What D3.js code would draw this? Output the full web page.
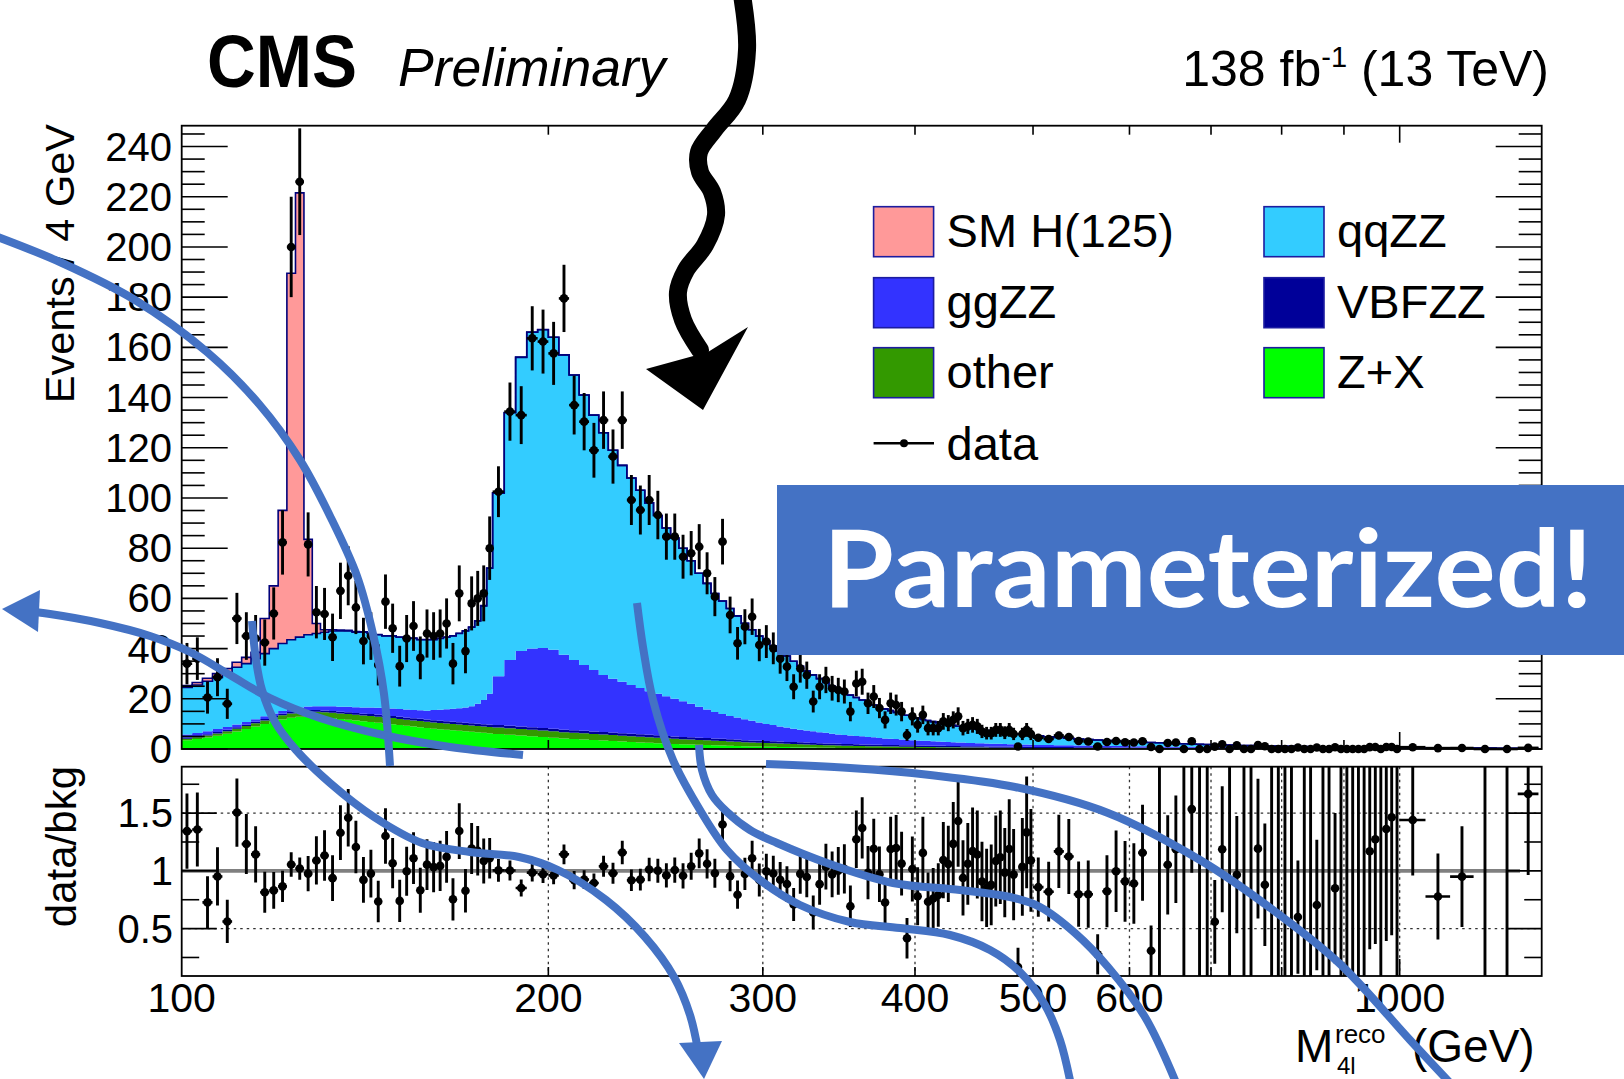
<!DOCTYPE html>
<html>
<head>
<meta charset="utf-8">
<script src="https://cdn.jsdelivr.net/npm/d3@7"></script>
<style>
  html, body { margin: 0; padding: 0; background: #fff; }
  svg { display: block; }
</style>
</head>
<body>
<svg id="chart" width="1624" height="1079"></svg>
<script>
// M4l binning: [from, to, bin width] in GeV
const binning = [[100, 180, 2], [180, 500, 4], [500, 1000, 10], [1000, 1300, 50]];

const xTickLabels = [100, 200, 300, 400, 500, 600, 1000];
const xSmallTicks = [200, 300, 400, 500, 600, 700, 800, 900];
const xBigTicks = [1000];
const yTickLabels = [0, 20, 40, 60, 80, 100, 120, 140, 160, 180, 200, 220, 240];
const ratioTickLabels = [0.5, 1, 1.5];

// stacked processes, Events / 4 GeV, one value per bin (bottom of the stack first)
const zxValues = [
  3.5, 4.0, 4.6, 5.3, 6.1, 7.0, 8.0, 9.0, 10.0, 11.0,
  11.8, 12.4, 12.8, 12.9, 12.8, 12.6, 12.3, 12.0, 11.7, 11.4,
  11.1, 10.8, 10.5, 10.2, 9.9, 9.6, 9.3, 9.0, 8.7, 8.4,
  8.1, 7.9, 7.7, 7.5, 7.3, 7.1, 6.9, 6.7, 6.5, 6.3,
  6.0, 5.7, 5.4, 5.1, 4.8,
  4.5, 4.2, 4.0, 3.8, 3.6, 3.4, 3.2, 3.0, 2.8, 2.6,
  2.5, 2.3, 2.2, 2.0, 1.9, 1.8, 1.7, 1.6, 1.5, 1.4,
  1.3, 1.2, 1.1, 1.0, 0.95, 0.9, 0.85, 0.8, 0.75, 0.7,
  0.65, 0.6, 0.55, 0.5, 0.48, 0.46, 0.44, 0.42, 0.4, 0.38,
  0.36, 0.34, 0.32, 0.3, 0.29, 0.28, 0.27, 0.26, 0.25, 0.24,
  0.23, 0.22, 0.21, 0.2, 0.2, 0.19, 0.18, 0.18, 0.17, 0.16,
  0.16, 0.15, 0.15, 0.14, 0.14, 0.13, 0.13, 0.12, 0.12, 0.11,
  0.11, 0.1, 0.1, 0.1, 0.1,
  0.09, 0.09, 0.08, 0.08, 0.07, 0.07, 0.07, 0.06, 0.06, 0.06,
  0.05, 0.05, 0.05, 0.05, 0.05, 0.05, 0.05, 0.05, 0.05, 0.05,
  0.04, 0.04, 0.04, 0.04, 0.04, 0.04, 0.04, 0.04, 0.04, 0.04,
  0.03, 0.03, 0.03, 0.03, 0.03, 0.03, 0.03, 0.03, 0.03, 0.03,
  0.02, 0.02, 0.02, 0.02, 0.02, 0.02, 0.02, 0.02, 0.02, 0.02,
  0.02, 0.01, 0.01, 0.01, 0.01, 0.01
];
const otherValues = [
  0.6, 0.7, 0.8, 0.9, 1.0, 1.1, 1.2, 1.3, 1.4, 1.5,
  1.6, 1.7, 1.8, 1.9, 2.0, 2.0, 2.1, 2.1, 2.2, 2.2,
  2.2, 2.3, 2.3, 2.3, 2.4, 2.4, 2.4, 2.4, 2.5, 2.5,
  2.5, 2.5, 2.5, 2.5, 2.5, 2.5, 2.5, 2.5, 2.5, 2.5,
  2.6, 2.6, 2.6, 2.6, 2.6,
  2.6, 2.5, 2.5, 2.5, 2.4, 2.4, 2.4, 2.3, 2.3, 2.3,
  2.2, 2.2, 2.1, 2.1, 2.0, 2.0, 1.9, 1.9, 1.8, 1.8,
  1.7, 1.7, 1.6, 1.6, 1.5, 1.5, 1.4, 1.4, 1.3, 1.3,
  1.25, 1.2, 1.15, 1.1, 1.05, 1.0, 0.95, 0.9, 0.88, 0.85,
  0.82, 0.8, 0.78, 0.75, 0.72, 0.7, 0.68, 0.66, 0.64, 0.62,
  0.6, 0.58, 0.56, 0.55, 0.54, 0.52, 0.5, 0.49, 0.48, 0.46,
  0.45, 0.44, 0.43, 0.42, 0.41, 0.4, 0.39, 0.38, 0.37, 0.36,
  0.35, 0.34, 0.33, 0.32, 0.31,
  0.3, 0.29, 0.28, 0.27, 0.26, 0.25, 0.24, 0.23, 0.22, 0.21,
  0.2, 0.19, 0.18, 0.18, 0.17, 0.16, 0.16, 0.15, 0.15, 0.14,
  0.14, 0.13, 0.13, 0.12, 0.12, 0.11, 0.11, 0.1, 0.1, 0.1,
  0.09, 0.09, 0.09, 0.09, 0.09, 0.08, 0.08, 0.08, 0.08, 0.08,
  0.08, 0.07, 0.07, 0.07, 0.07, 0.06, 0.06, 0.06, 0.06, 0.06,
  0.05, 0.05, 0.04, 0.04, 0.03, 0.03
];
const vbfValues = [
  0.5, 0.5, 0.5, 0.55, 0.55, 0.55, 0.6, 0.6, 0.6, 0.6,
  0.65, 0.65, 0.65, 0.7, 0.7, 0.7, 0.7, 0.75, 0.75, 0.75,
  0.75, 0.8, 0.8, 0.8, 0.8, 0.8, 0.85, 0.85, 0.85, 0.85,
  0.9, 0.9, 0.9, 0.9, 0.9, 0.9, 0.9, 0.9, 0.9, 0.9,
  0.95, 0.95, 1.0, 1.0, 1.0,
  1.0, 1.0, 1.0, 1.0, 1.0, 1.0, 1.0, 0.98, 0.96, 0.95,
  0.94, 0.93, 0.92, 0.91, 0.9, 0.9, 0.89, 0.88, 0.87, 0.86,
  0.85, 0.84, 0.83, 0.82, 0.81, 0.8, 0.79, 0.78, 0.77, 0.76,
  0.75, 0.74, 0.73, 0.72, 0.71, 0.7, 0.7, 0.69, 0.68, 0.67,
  0.66, 0.65, 0.64, 0.63, 0.62, 0.62, 0.61, 0.6, 0.6, 0.59,
  0.58, 0.57, 0.57, 0.56, 0.55, 0.55, 0.54, 0.53, 0.53, 0.52,
  0.52, 0.51, 0.5, 0.5, 0.49, 0.49, 0.48, 0.48, 0.47, 0.47,
  0.46, 0.46, 0.45, 0.45, 0.44,
  0.43, 0.42, 0.41, 0.4, 0.39, 0.38, 0.37, 0.36, 0.35, 0.34,
  0.33, 0.32, 0.31, 0.3, 0.3, 0.29, 0.28, 0.27, 0.27, 0.26,
  0.25, 0.25, 0.24, 0.23, 0.23, 0.22, 0.22, 0.21, 0.21, 0.2,
  0.2, 0.19, 0.19, 0.18, 0.18, 0.17, 0.17, 0.17, 0.16, 0.16,
  0.16, 0.15, 0.15, 0.15, 0.14, 0.14, 0.14, 0.13, 0.13, 0.13,
  0.12, 0.11, 0.1, 0.09, 0.08, 0.08
];
const ggValues = [
  1.2, 1.2, 1.2, 1.2, 1.1, 1.1, 1.0, 1.0, 1.0, 1.0,
  1.1, 1.2, 1.3, 1.4, 1.5, 1.7, 1.9, 2.0, 2.2, 2.3,
  2.5, 2.6, 2.8, 2.9, 3.0, 3.1, 3.2, 3.3, 3.4, 3.5,
  4.0, 4.3, 4.7, 5.1, 5.5, 6.0, 6.7, 7.9, 9.6, 12.3,
  19.4, 26.2, 30.0, 31.3, 31.8,
  31.4, 29.8, 28.0, 26.2, 24.5, 22.7, 21.4, 20.5, 19.4, 18.5,
  17.4, 16.6, 15.8, 15.0, 14.2, 13.3, 12.3, 11.4, 10.6, 9.9,
  9.3, 8.8, 8.3, 7.8, 7.3, 6.8, 6.5, 6.0, 5.7, 5.3,
  5.0, 4.8, 4.6, 4.4, 4.2, 3.9, 3.7, 3.6, 3.4, 3.3,
  3.2, 3.0, 2.9, 2.7, 2.6, 2.5, 2.4, 2.3, 2.2, 2.05,
  2.0, 1.9, 1.9, 1.8, 1.7, 1.6, 1.6, 1.5, 1.4, 1.4,
  1.3, 1.3, 1.2, 1.2, 1.15, 1.1, 1.1, 1.07, 1.04, 1.0,
  0.98, 0.95, 0.92, 0.88, 0.85,
  0.82, 0.78, 0.75, 0.72, 0.69, 0.66, 0.63, 0.6, 0.58, 0.56,
  0.54, 0.52, 0.5, 0.48, 0.46, 0.44, 0.42, 0.4, 0.38, 0.37,
  0.36, 0.35, 0.34, 0.33, 0.32, 0.31, 0.3, 0.29, 0.28, 0.27,
  0.26, 0.25, 0.25, 0.24, 0.23, 0.23, 0.22, 0.21, 0.21, 0.2,
  0.2, 0.19, 0.19, 0.18, 0.18, 0.17, 0.17, 0.16, 0.16, 0.15,
  0.14, 0.12, 0.11, 0.1, 0.09, 0.08
];
const qqValues = [
  18.7, 19.1, 19.9, 20.6, 21.8, 22.8, 23.2, 24.1, 25.0, 25.9,
  26.9, 27.6, 28.0, 28.6, 29.0, 29.5, 30.0, 30.2, 30.2, 29.9,
  30.0, 29.5, 29.1, 28.8, 28.9, 28.6, 28.3, 28.5, 28.1, 28.3,
  28.0, 28.4, 28.7, 29.0, 29.8, 30.5, 31.5, 33.0, 37.5, 50.0,
  73, 98.5, 117, 126, 126.8,
  124.5, 119.5, 113.5, 107.5, 101.5, 96.5, 91, 86.2, 82.5, 78.7,
  75, 71, 67, 64, 61, 57, 53.2, 50.2, 47.2, 45,
  42.8, 40.5, 38.2, 36.3, 34.4, 33, 31.5, 30, 28.5, 26.9,
  25.3, 23.7, 22.5, 21.3, 20.1, 18.9, 17.7, 16.9, 16.1, 15.3,
  14.5, 13.7, 12.9, 12.4, 11.75, 11.2, 10.65, 10.2, 9.75, 9.3,
  8.9, 8.5, 8.1, 7.8, 7.5, 7.2, 6.9, 6.7, 6.5, 6.3,
  6.05, 5.8, 5.6, 5.45, 5.2, 5.05, 4.9, 4.75, 4.6, 4.45,
  4.3, 4.15, 4.0, 3.95, 3.8,
  3.6, 3.3, 3.1, 2.8, 2.6, 2.4, 2.3, 2.15, 2.0, 1.8,
  1.8, 1.6, 1.55, 1.5, 1.3, 1.25, 1.2, 1.15, 1.05, 1.0,
  0.91, 0.83, 0.8, 0.78, 0.69, 0.67, 0.63, 0.61, 0.57, 0.54,
  0.52, 0.49, 0.44, 0.41, 0.37, 0.37, 0.35, 0.33, 0.32, 0.3,
  0.28, 0.29, 0.27, 0.25, 0.24, 0.23, 0.21, 0.21, 0.19, 0.18,
  0.17, 0.16, 0.14, 0.11, 0.09, 0.07
];
const higgsValues = [
  0.8, 1.0, 1.2, 1.5, 1.5, 2.0, 2.5, 2.5, 14, 25,
  53, 146, 177, 38, 4, 1, 0.5, 0.3, 0.2, 0.2,
  0.1, 0.1, 0.1, 0.1, 0.1, 0.1, 0.1, 0.1, 0.1, 0.1,
  0.1, 0.1, 0.1, 0.1, 0.1, 0.1, 0.1, 0.1, 0.1, 0.1,
  0.1, 0.1, 0.1, 0.1, 0.1,
  0, 0, 0, 0, 0, 0, 0, 0, 0, 0,
  0, 0, 0, 0, 0, 0, 0, 0, 0, 0,
  0, 0, 0, 0, 0, 0, 0, 0, 0, 0,
  0, 0, 0, 0, 0, 0, 0, 0, 0, 0,
  0, 0, 0, 0, 0, 0, 0, 0, 0, 0,
  0, 0, 0, 0, 0, 0, 0, 0, 0, 0,
  0, 0, 0, 0, 0, 0, 0, 0, 0, 0,
  0, 0, 0, 0, 0,
  0, 0, 0, 0, 0, 0, 0, 0, 0, 0,
  0, 0, 0, 0, 0, 0, 0, 0, 0, 0,
  0, 0, 0, 0, 0, 0, 0, 0, 0, 0,
  0, 0, 0, 0, 0, 0, 0, 0, 0, 0,
  0, 0, 0, 0, 0, 0, 0, 0, 0, 0,
  0, 0, 0, 0, 0, 0
];
// observed data, Events / 4 GeV
const dataValues = [
  34, 36, 20.5, 28.6, 18, 52, 45, 44, 42.4, 54,
  82.3, 200, 226, 81.5, 54.5, 53.8, 44.5, 63, 69, 56.4,
  43, 45, 33.5, 58.7, 48.1, 33, 44, 49, 36.3, 46,
  45, 46, 50, 34, 62, 39, 58, 60, 62, 80,
  102.5, 134.4, 133, 163.6, 162.3,
  157.6, 179.5, 137, 130.4, 119, 131, 116.5, 131, 99.2, 95.2,
  99.2, 93.2, 84.6, 84.6, 76.6, 78, 80.6, 70, 60.7, 82.6,
  53.4, 42.1, 48.7, 52.7, 41.4, 42.8, 40.1, 36, 32.8, 24.8,
  32.1, 29.4, 18.9, 24.8, 27.5, 24.2, 23.5, 22.9, 14.9, 26.1,
  26.8, 18.2, 20.9, 16.3, 11.6, 18.2, 17.5, 14.9, 5.6, 13,
  9.6, 13.6, 8.3, 8.3, 8.3, 11, 10.3, 11.6, 13, 8.3,
  9, 9.6, 9, 7, 6.3, 6.3, 7.6, 7.6, 6.5, 7.6,
  6, 1, 6, 7.6, 6,
  4.5, 4.0, 5.4, 4.8, 3.2, 3.0, 1.0, 2.8, 3.2, 2.7,
  2.6, 3.1, 0.8, 0, 2.4, 2.6, 0, 3.1, 0, 0,
  0.95, 1.9, 0, 1.45, 0, 0, 1.55, 1.1, 0, 0,
  0, 0, 0.6, 0, 0, 0.62, 0, 0, 0.68, 0,
  0, 0, 0, 0, 0.76, 0.79, 0, 0.79, 0.82, 0,
  0.72, 0.35, 0.38, 0, 0, 0.45
];

const processes = [
  { key: "zx", label: "Z+X", color: "#00ff00", values: zxValues },
  { key: "other", label: "other", color: "#339900", values: otherValues },
  { key: "vbf", label: "VBFZZ", color: "#000099", values: vbfValues },
  { key: "gg", label: "ggZZ", color: "#3333ff", values: ggValues },
  { key: "qq", label: "qqZZ", color: "#33ccff", values: qqValues },
  { key: "higgs", label: "SM H(125)", color: "#ff9999", values: higgsValues }
];

const font = "'Liberation Sans', Arial, Helvetica, sans-serif";
const svg = d3.select("#chart");

// frames
const upper = { left: 181.7, right: 1541.7, top: 125.7, bottom: 749 };
const rat = { top: 766.7, bottom: 976 };

const x = d3.scaleLog().domain([100, 1308]).range([upper.left, upper.right]);
const y = d3.scaleLinear().domain([0, 248.3]).range([upper.bottom, upper.top]);
const yR = d3.scaleLinear().domain([0.0896, 1.902]).range([rat.bottom, rat.top]);

// bins
const bins = [];
binning.forEach(([lo, hi, w]) => {
  for (let m = lo; m < hi - 1e-6; m += w) bins.push({ lo: m, hi: m + w, w: w });
});

const rows = bins.map((b, i) => {
  const r = { lo: b.lo, hi: b.hi, w: b.w, data: dataValues[i] };
  processes.forEach(p => (r[p.key] = p.values[i]));
  r.bkg = d3.sum(processes, p => p.values[i]);
  return r;
});

const layers = d3.stack().keys(processes.map(p => p.key))(rows);

const defs = svg.append("defs");
defs.append("clipPath").attr("id", "clipTop").append("rect")
  .attr("x", upper.left).attr("y", upper.top)
  .attr("width", upper.right - upper.left).attr("height", upper.bottom - upper.top);
defs.append("clipPath").attr("id", "clipRatio").append("rect")
  .attr("x", upper.left).attr("y", rat.top)
  .attr("width", upper.right - upper.left).attr("height", rat.bottom - rat.top);

// ---- stacked histogram ----
function steps(layer) {
  const pts = [];
  layer.forEach((d, i) => {
    pts.push({ m: rows[i].lo, y0: d[0], y1: d[1] });
    pts.push({ m: rows[i].hi, y0: d[0], y1: d[1] });
  });
  return pts;
}
const area = d3.area().x(d => x(d.m)).y0(d => y(d.y0)).y1(d => y(d.y1));
const topLine = d3.line().x(d => x(d.m)).y(d => y(d.y1));

const gStack = svg.append("g").attr("clip-path", "url(#clipTop)");
gStack.selectAll("path.layer")
  .data(layers)
  .join("path")
  .attr("class", "layer")
  .attr("d", l => area(steps(l)))
  .attr("fill", (l, i) => processes[i].color);

// outlines of qqZZ and SM H on top
[4, 5].forEach(i => {
  gStack.append("path")
    .attr("d", topLine(steps(layers[i])))
    .attr("fill", "none")
    .attr("stroke", "#00007a")
    .attr("stroke-width", 1.6);
});

// ---- data points ----
const pts = rows.map(r => {
  const s = 4 / r.w;
  const err = r.data > 0 ? Math.sqrt(r.data * s) : 0;
  return {
    lo: r.lo, hi: r.hi, c: (r.lo + r.hi) / 2, v: r.data, bkg: r.bkg,
    eLo: err, eHi: r.data > 0 ? err : 1.84 * s
  };
});

function drawPoints(g, pts, yScale, getV, getLo, getHi) {
  g.selectAll("line.ex").data(pts).join("line").attr("class", "ex")
    .attr("x1", d => x(d.lo)).attr("x2", d => x(d.hi))
    .attr("y1", d => yScale(getV(d))).attr("y2", d => yScale(getV(d)))
    .attr("stroke", "#000").attr("stroke-width", 2.6);
  g.selectAll("line.ey").data(pts).join("line").attr("class", "ey")
    .attr("x1", d => x(d.c)).attr("x2", d => x(d.c))
    .attr("y1", d => yScale(getLo(d))).attr("y2", d => yScale(getHi(d)))
    .attr("stroke", "#000").attr("stroke-width", 2.9);
  g.selectAll("circle").data(pts).join("circle")
    .attr("cx", d => x(d.c)).attr("cy", d => yScale(getV(d)))
    .attr("r", 4.3).attr("fill", "#000");
}

drawPoints(svg.append("g"), pts, y,
  d => d.v, d => Math.max(0, d.v - d.eLo), d => d.v + d.eHi);

// ---- ratio panel ----
const gRatio = svg.append("g").attr("clip-path", "url(#clipRatio)");
const gridDash = "2.5,4";
gRatio.selectAll("line.vgrid").data(xSmallTicks.concat(xBigTicks)).join("line")
  .attr("class", "vgrid")
  .attr("x1", d => x(d)).attr("x2", d => x(d))
  .attr("y1", rat.top).attr("y2", rat.bottom)
  .attr("stroke", "#333").attr("stroke-width", 1.3).attr("stroke-dasharray", gridDash);
gRatio.selectAll("line.hgrid").data([0.5, 1.5]).join("line")
  .attr("class", "hgrid")
  .attr("x1", upper.left).attr("x2", upper.right)
  .attr("y1", d => yR(d)).attr("y2", d => yR(d))
  .attr("stroke", "#333").attr("stroke-width", 1.3).attr("stroke-dasharray", gridDash);
gRatio.append("line")
  .attr("x1", upper.left).attr("x2", 1520)
  .attr("y1", yR(1)).attr("y2", yR(1))
  .attr("stroke", "#808080").attr("stroke-width", 3.6);

const ratioPts = pts.filter(d => d.v > 0).map(d => ({
  lo: d.lo, hi: d.hi, c: d.c, r: d.v / d.bkg, e: d.eLo / d.bkg
}));
drawPoints(gRatio.append("g"), ratioPts, yR,
  d => d.r, d => d.r - d.e, d => d.r + d.e);

// empty bins: error bar reaches past the panel
gRatio.selectAll("line.empty").data(pts.filter(d => d.v === 0)).join("line")
  .attr("class", "empty")
  .attr("x1", d => x(d.c)).attr("x2", d => x(d.c))
  .attr("y1", rat.bottom).attr("y2", rat.top)
  .attr("stroke", "#000").attr("stroke-width", 2.9);

// ---- frames and ticks ----
[[upper.top, upper.bottom], [rat.top, rat.bottom]].forEach(([t, b]) => {
  svg.append("rect").attr("x", upper.left).attr("y", t)
    .attr("width", upper.right - upper.left).attr("height", b - t)
    .attr("fill", "none").attr("stroke", "#000").attr("stroke-width", 1.8);
});

const gAxes = svg.append("g").attr("stroke", "#000").attr("stroke-width", 1.6);
// upper y ticks, both sides
d3.range(0, 246, 5).forEach(v => {
  const len = v % 20 === 0 ? 46 : 23;
  gAxes.append("line").attr("x1", upper.left).attr("x2", upper.left + len)
    .attr("y1", y(v)).attr("y2", y(v));
  gAxes.append("line").attr("x1", upper.right).attr("x2", upper.right - len)
    .attr("y1", y(v)).attr("y2", y(v));
});
// ratio y ticks
d3.range(0.25, 1.8, 0.25).forEach(v => {
  const len = Math.abs(v * 2 - Math.round(v * 2)) < 1e-6 ? 35 : 17.5;
  gAxes.append("line").attr("x1", upper.left).attr("x2", upper.left + len)
    .attr("y1", yR(v)).attr("y2", yR(v));
  gAxes.append("line").attr("x1", upper.right).attr("x2", upper.right - len)
    .attr("y1", yR(v)).attr("y2", yR(v));
});
// x ticks on the upper frame (bottom and top) and ratio bottom
xSmallTicks.concat(xBigTicks).forEach(m => {
  const len = xBigTicks.includes(m) ? 17 : 9;
  gAxes.append("line").attr("x1", x(m)).attr("x2", x(m))
    .attr("y1", upper.bottom).attr("y2", upper.bottom - len);
  gAxes.append("line").attr("x1", x(m)).attr("x2", x(m))
    .attr("y1", upper.top).attr("y2", upper.top + len);
  gAxes.append("line").attr("x1", x(m)).attr("x2", x(m))
    .attr("y1", rat.bottom).attr("y2", rat.bottom - len);
});

// ---- axis labels ----
const gText = svg.append("g").attr("font-family", font).attr("fill", "#000");
gText.selectAll("text.ylab").data(yTickLabels).join("text").attr("class", "ylab")
  .attr("x", 172).attr("y", d => y(d) + 14)
  .attr("text-anchor", "end").attr("font-size", 40).text(d => d);
gText.selectAll("text.rlab").data(ratioTickLabels).join("text").attr("class", "rlab")
  .attr("x", 173).attr("y", d => yR(d) + 14)
  .attr("text-anchor", "end").attr("font-size", 40).text(d => d);
gText.selectAll("text.xlab").data(xTickLabels).join("text").attr("class", "xlab")
  .attr("x", d => x(d)).attr("y", 1012)
  .attr("text-anchor", "middle").attr("font-size", 41).text(d => d);

gText.append("text")
  .attr("transform", "translate(74,124) rotate(-90)")
  .attr("text-anchor", "end").attr("font-size", 41.5)
  .text("Events / 4 GeV");
gText.append("text")
  .attr("transform", "translate(76,766) rotate(-90)")
  .attr("text-anchor", "end").attr("font-size", 42)
  .text("data/bkg");

gText.append("text").attr("x", 1295).attr("y", 1062).attr("font-size", 46).text("M");
gText.append("text").attr("x", 1335).attr("y", 1043).attr("font-size", 26).text("reco");
gText.append("text").attr("x", 1337).attr("y", 1074).attr("font-size", 24).text("4l");
gText.append("text").attr("x", 1412).attr("y", 1062).attr("font-size", 46).text("(GeV)");

// titles
gText.append("text").attr("x", 207).attr("y", 87)
  .attr("font-size", 74).attr("font-weight", "bold")
  .attr("textLength", 150).attr("lengthAdjust", "spacingAndGlyphs")
  .text("CMS");
gText.append("text").attr("x", 398).attr("y", 86)
  .attr("font-size", 53.5).attr("font-style", "italic")
  .text("Preliminary");
const lumi = gText.append("text").attr("x", 1549).attr("y", 86)
  .attr("text-anchor", "end").attr("font-size", 50);
lumi.append("tspan").text("138 fb");
lumi.append("tspan").attr("dy", -19).attr("font-size", 29).text("-1");
lumi.append("tspan").attr("dy", 19).text(" (13 TeV)");

// ---- legend ----
const legendOrder = ["higgs", "qq", "gg", "vbf", "other", "zx"];
const legendCols = [873.6, 1264];
const legendRows = [206.7, 277.7, 347.7];
const gLeg = svg.append("g").attr("font-family", font);
legendOrder.forEach((k, i) => {
  const p = processes.find(q => q.key === k);
  const cx = legendCols[i % 2], ry = legendRows[Math.floor(i / 2)];
  gLeg.append("rect").attr("x", cx).attr("y", ry).attr("width", 60).attr("height", 50)
    .attr("fill", p.color).attr("stroke", "#1c1ca0").attr("stroke-width", 1.6);
  gLeg.append("text").attr("x", cx + 73).attr("y", ry + 40)
    .attr("font-size", 47).text(p.label);
});
gLeg.append("line").attr("x1", 873.6).attr("x2", 934).attr("y1", 443.3).attr("y2", 443.3)
  .attr("stroke", "#000").attr("stroke-width", 2.6);
gLeg.append("circle").attr("cx", 904).attr("cy", 443.3).attr("r", 4).attr("fill", "#000");
gLeg.append("text").attr("x", 946.6).attr("y", 460).attr("font-size", 47).text("data");

// ---- annotations drawn over the plot ----
const smooth = d3.line().curve(d3.curveCatmullRom.alpha(0.5));

// black squiggly arrow from the top
const squiggle = [[742, -5], [747, 50], [737, 100], [714, 130], [699, 152], [700, 172],
  [712, 192], [716, 215], [705, 245], [686, 270], [678, 292], [683, 320], [700, 350]];
svg.append("path").attr("d", smooth(squiggle))
  .attr("fill", "none").attr("stroke", "#000").attr("stroke-width", 18)
  .attr("stroke-linecap", "round");
svg.append("path").attr("d", "M646,369 L703,410 L748,327 L708,352 Z").attr("fill", "#000");

// "Parameterized!" banner
svg.append("rect").attr("x", 777).attr("y", 485).attr("width", 847).attr("height", 170)
  .attr("fill", "#4472c4");
svg.append("text").attr("x", 823).attr("y", 607)
  .attr("font-family", "Lato, 'Open Sans', sans-serif").attr("font-weight", 700)
  .attr("font-size", 108).attr("fill", "#fff")
  .attr("textLength", 770).attr("lengthAdjust", "spacingAndGlyphs")
  .text("Parameterized!");

// blue hand-drawn curves
const blue = "#4472c4";
const curves = [
  [[-5, 236], [62, 263], [135, 300], [207, 352], [259, 404], [300, 460], [331, 518],
    [357, 576], [373, 634], [384, 694], [390, 766]],
  [[523, 755], [450, 747], [383, 735], [320, 718], [270, 698], [230, 675], [190, 652],
    [150, 636], [100, 623], [50, 614], [25, 611]],
  [[252, 621], [256, 660], [262, 690], [275, 722], [296, 750], [330, 783], [374, 817],
    [422, 843], [470, 852], [519, 857], [558, 870], [606, 900], [645, 937], [674, 977],
    [690, 1015], [698, 1050]],
  [[637, 603], [643, 647], [653, 700], [673, 760], [700, 810], [727, 850], [760, 880],
    [800, 905], [850, 922], [900, 928], [950, 935], [990, 950], [1020, 972], [1045, 1005],
    [1060, 1040], [1071, 1085]],
  [[699, 745], [702, 770], [712, 795], [727, 812], [750, 830], [777, 843], [827, 863],
    [893, 883], [960, 890], [1010, 897], [1040, 907], [1075, 933], [1108, 967],
    [1145, 1017], [1177, 1085]],
  [[766, 764], [850, 768], [930, 775], [1015, 787], [1108, 813], [1200, 860], [1269, 907],
    [1339, 963], [1410, 1040], [1452, 1085]]
];
svg.selectAll("path.anno").data(curves).join("path").attr("class", "anno")
  .attr("d", c => smooth(c))
  .attr("fill", "none").attr("stroke", blue).attr("stroke-width", 8);
// arrow heads
svg.append("path").attr("d", "M2,609 L40,590 L38,632 Z").attr("fill", blue);
svg.append("path").attr("d", "M704,1079 L679,1043 L722,1041 Z").attr("fill", blue);
</script>
</body>
</html>
